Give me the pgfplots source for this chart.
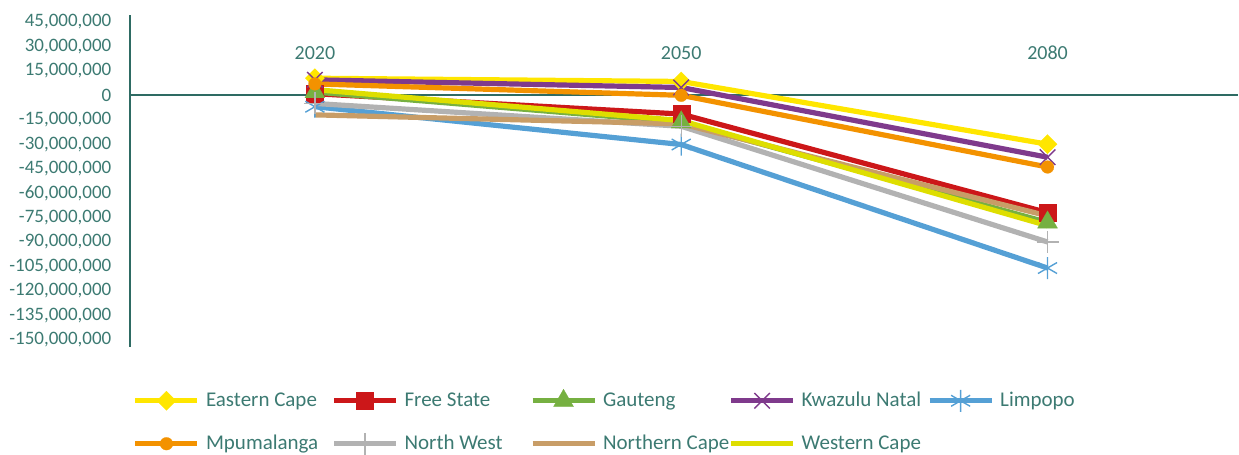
\documentclass[border=0pt]{standalone}
\usepackage{fontspec}
\setmainfont{Carlito}
\usepackage{pgfplots}
\pgfplotsset{compat=1.18}
\definecolor{ecY}{HTML}{FFE600}
\definecolor{fsR}{HTML}{CC1719}
\definecolor{gG}{HTML}{76B041}
\definecolor{kzP}{HTML}{7F3A8C}
\definecolor{lB}{HTML}{55A0D5}
\definecolor{mO}{HTML}{F39200}
\definecolor{nwG}{HTML}{B2B2B2}
\definecolor{ncT}{HTML}{C89D67}
\definecolor{wcY}{HTML}{DEDE00}
\definecolor{txt}{HTML}{3C7A72}
\definecolor{axc}{HTML}{2E6B63}
\newcommand{\legtxt}[1]{\makebox[59.75pt][l]{#1}}
\begin{document}
\begin{tikzpicture}
\begin{axis}[
  scale only axis,
  width=554.5pt, height=166pt,
  xmin=-0.505, xmax=2.52,
  ymin=-154300000, ymax=49300000,
  axis x line=middle, axis y line=left,
  axis line style={draw=axc, line width=1pt, -},
  hide obscured x ticks=false, hide obscured y ticks=false,
  major tick length=0pt,
  xtick={0,1,2}, xticklabels={2020,2050,2080},
  xticklabel style={anchor=base, yshift=17.75pt, font=\fontsize{10}{12}\selectfont, text=txt},
  ytick={-150000000,-135000000,-120000000,-105000000,-90000000,-75000000,-60000000,-45000000,-30000000,-15000000,0,15000000,30000000,45000000},
  scaled y ticks=false,
  yticklabel style={anchor=east, xshift=-5.8pt, font=\fontsize{9.5}{11}\selectfont, text=txt,
    /pgf/number format/.cd, fixed, precision=0, 1000 sep={,}, assume math mode=true},
  clip=false,
  every axis plot/.append style={line width=2.6pt},
  legend columns=5,
  legend cell align=left,
  legend image code/.code={\draw[mark repeat=2,mark phase=2] plot coordinates {(0pt,0pt)(15.5pt,0pt)(31pt,0pt)};},
  legend style={draw=none, fill=none, inner sep=0pt, outer sep=0pt,
    at={(axis description cs:0.0027,-0.128)}, anchor=north west,
    row sep=10.5pt, column sep=0pt,
    nodes={inner xsep=3pt, inner ysep=1pt, font=\fontsize{10.5}{12}\selectfont, text=txt}},
]
\addplot[color=ecY, mark=square*, mark size=3.4pt, mark options={rotate=45, solid, line width=0.1pt}] coordinates {(0,10500000) (1,8500000) (2,-30000000)};
\addlegendentry{\legtxt{Eastern Cape}}
\addplot[color=fsR, mark=square*, mark size=4.25pt, mark options={line width=0.1pt}] coordinates {(0,1000000) (1,-11500000) (2,-72000000)};
\addlegendentry{\legtxt{Free State}}
\addplot[color=gG, mark=triangle*, mark size=5.8pt, mark options={line width=0.1pt}] coordinates {(0,2000000) (1,-16500000) (2,-78000000)};
\addlegendentry{\legtxt{Gauteng}}
\addplot[color=kzP, mark=x, mark size=5.5pt, mark options={line width=0.7pt}] coordinates {(0,9500000) (1,4800000) (2,-38000000)};
\addlegendentry{\legtxt{Kwazulu Natal}}
\addplot[color=lB, mark=asterisk, mark size=5.5pt, mark options={line width=0.7pt}] coordinates {(0,-7000000) (1,-30200000) (2,-106000000)};
\addlegendentry{\legtxt{Limpopo}}
\addplot[color=mO, mark=*, mark size=3.2pt, mark options={line width=0.1pt}] coordinates {(0,7000000) (1,0) (2,-44000000)};
\addlegendentry{\legtxt{Mpumalanga}}
\addplot[color=nwG, mark=+, mark size=5.5pt, mark options={line width=0.7pt}] coordinates {(0,-5000000) (1,-19000000) (2,-90000000)};
\addlegendentry{\legtxt{North West}}
\addplot[color=ncT, mark=none] coordinates {(0,-12000000) (1,-17500000) (2,-74000000)};
\addlegendentry{\legtxt{Northern Cape}}
\addplot[color=wcY, mark=none] coordinates {(0,3500000) (1,-15500000) (2,-80000000)};
\addlegendentry{\legtxt{Western Cape}}
\coordinate (SW) at (rel axis cs:0,0);
\end{axis}
\path (SW) ++(-65pt,-54pt) rectangle ++(619.5pt,227.5pt);
\end{tikzpicture}
\end{document}
